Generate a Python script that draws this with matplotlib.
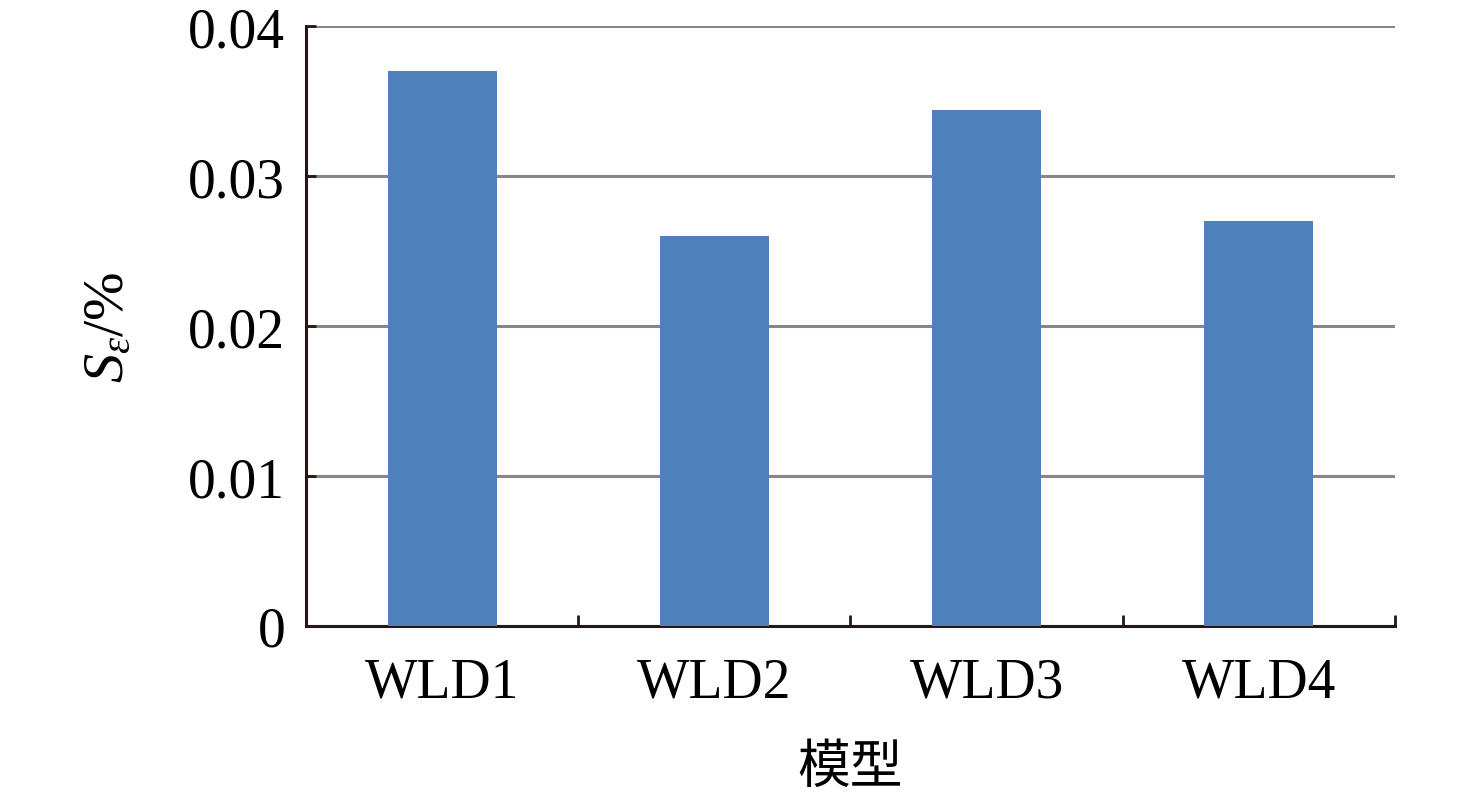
import matplotlib
matplotlib.use('Agg')
import matplotlib.pyplot as plt

MODELS = ['WLD1', 'WLD2', 'WLD3', 'WLD4']
S_EPS = [0.0370, 0.0260, 0.0344, 0.0270]
YTICKS = [0, 0.01, 0.02, 0.03, 0.04]
YTICK_LABELS = ['0', '0.01', '0.02', '0.03', '0.04']

plt.rcParams['font.family'] = ['Liberation Serif', 'Noto Sans CJK SC']
plt.rcParams['mathtext.fontset'] = 'custom'
plt.rcParams['mathtext.rm'] = 'Liberation Serif'
plt.rcParams['mathtext.it'] = 'Liberation Serif:italic'

fig = plt.figure(figsize=(14.76, 8.03), dpi=100)
ax = fig.add_axes([0.2073, 0.2192, 0.7378, 0.7466])

x = range(len(MODELS))
ax.bar(x, S_EPS, width=0.4, color='#4F81BD', zorder=3)

ax.set_xlim(-0.5, len(MODELS) - 0.5)
ax.set_ylim(0, 0.04)
ax.set_yticks(YTICKS)
ax.set_yticklabels(YTICK_LABELS)
ax.yaxis.grid(True, color='#878787', lw=2.2, zorder=0)
ax.set_axisbelow(True)

# category ticks sit between the bars
ax.set_xticks([i + 0.5 for i in x], minor=True)
ax.set_xticks(list(x))
ax.set_xticklabels(MODELS)
ax.tick_params(axis='x', which='major', length=0, pad=22, labelsize=40)
ax.tick_params(axis='x', which='minor', length=8, width=2, direction='in', color='#231815')
ax.tick_params(axis='y', length=7, width=2, direction='in', color='#231815', pad=15, labelsize=40)

for s in ['top', 'right']:
    ax.spines[s].set_visible(False)
for s in ['left', 'bottom']:
    ax.spines[s].set_color('#231815')
    ax.spines[s].set_linewidth(2.2)

ax.set_ylabel(r'$S_{\varepsilon}$/%', fontsize=42, labelpad=38)
ax.set_xlabel('模型', fontsize=38, labelpad=22, family=['Noto Sans CJK SC'])

fig.savefig('out.png', dpi=100)
